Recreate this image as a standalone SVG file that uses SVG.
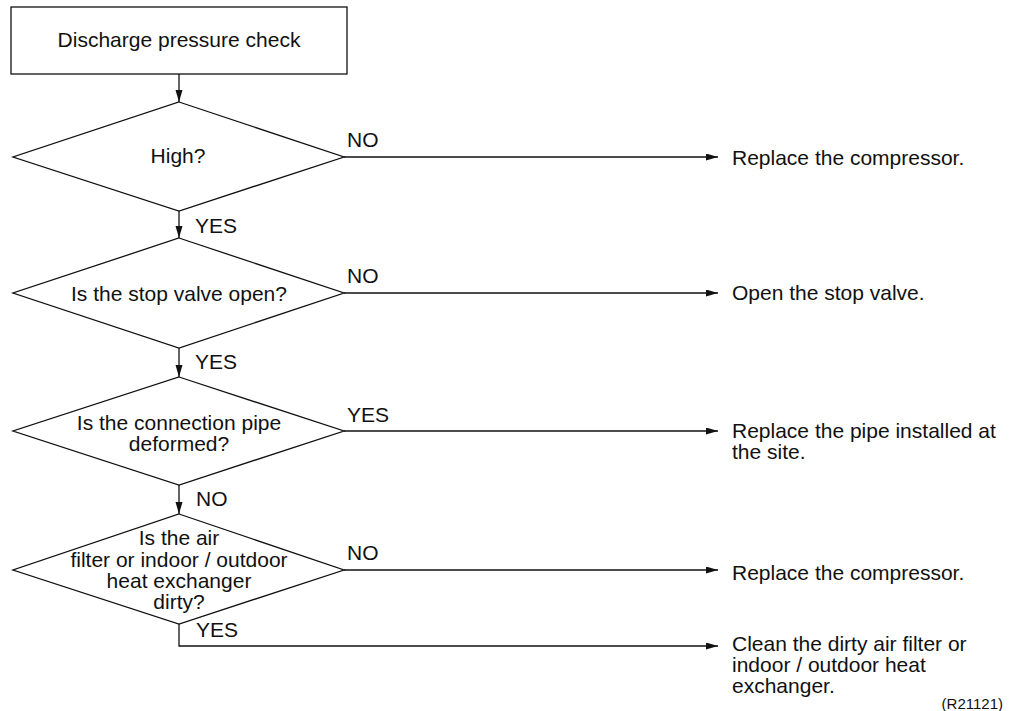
<svg xmlns="http://www.w3.org/2000/svg" width="1012" height="711" viewBox="0 0 1012 711">
<style>
text{font-family:"Liberation Sans",Arial,Helvetica,sans-serif;font-size:21px;fill:#111}
.c{text-anchor:middle}
.sh{fill:#fff;stroke:#111;stroke-width:1.3}
.ln{fill:none;stroke:#111;stroke-width:1.3}
.sm{font-size:15px}
</style>
<defs>
<marker id="ad" markerUnits="userSpaceOnUse" markerWidth="14" markerHeight="8" refX="12" refY="3.5" orient="auto">
<path d="M0,0 L12,3.5 L0,7 z" fill="#111"/>
</marker>
</defs>
<g id="connectors">
<line class="ln" x1="179" y1="74" x2="179" y2="102" marker-end="url(#ad)"/>
<line class="ln" x1="179" y1="211" x2="179" y2="238" marker-end="url(#ad)"/>
<line class="ln" x1="179" y1="348" x2="179" y2="377" marker-end="url(#ad)"/>
<line class="ln" x1="179" y1="485" x2="179" y2="514" marker-end="url(#ad)"/>
<line class="ln" x1="344" y1="157" x2="718" y2="157" marker-end="url(#ad)"/>
<line class="ln" x1="344" y1="293" x2="718" y2="293" marker-end="url(#ad)"/>
<line class="ln" x1="344" y1="431" x2="718" y2="431" marker-end="url(#ad)"/>
<line class="ln" x1="344" y1="570" x2="718" y2="570" marker-end="url(#ad)"/>
<polyline class="ln" points="179,624 179,646 718,646" marker-end="url(#ad)"/>
<text x="347" y="147">NO</text>
<text x="347" y="283">NO</text>
<text x="347" y="422">YES</text>
<text x="347" y="560">NO</text>
<text x="195" y="233">YES</text>
<text x="195" y="369">YES</text>
<text x="196" y="506">NO</text>
<text x="196" y="637">YES</text>
</g>
<g id="start">
<rect class="sh" x="11" y="7" width="336" height="67"/>
<text class="c" x="179" y="47">Discharge pressure check</text>
</g>
<g id="d1">
<polygon class="sh" points="179,102 344,157 179,211 13,157"/>
<text class="c" x="178" y="163">High?</text>
</g>
<g id="d2">
<polygon class="sh" points="179,238 344,293 179,348 13,293"/>
<text class="c" x="179" y="301">Is the stop valve open?</text>
</g>
<g id="d3">
<polygon class="sh" points="179,377 344,431 179,485 13,431"/>
<text class="c" x="179" y="430">Is the connection pipe</text>
<text class="c" x="179" y="451">deformed?</text>
</g>
<g id="d4">
<polygon class="sh" points="179,514 344,570 179,624 13,570"/>
<text class="c" x="179" y="545">Is the air</text>
<text class="c" x="179" y="567">filter or indoor / outdoor</text>
<text class="c" x="179" y="588">heat exchanger</text>
<text class="c" x="179" y="609">dirty?</text>
</g>
<g id="r1"><text x="732" y="165">Replace the compressor.</text></g>
<g id="r2"><text x="732" y="300">Open the stop valve.</text></g>
<g id="r3"><text x="732" y="438">Replace the pipe installed at</text><text x="732" y="459">the site.</text></g>
<g id="r4"><text x="732" y="580">Replace the compressor.</text></g>
<g id="r5"><text x="732" y="651">Clean the dirty air filter or</text><text x="732" y="672">indoor / outdoor heat</text><text x="732" y="693">exchanger.</text></g>
<text class="sm" x="1003" y="709" text-anchor="end">(R21121)</text>
</svg>
